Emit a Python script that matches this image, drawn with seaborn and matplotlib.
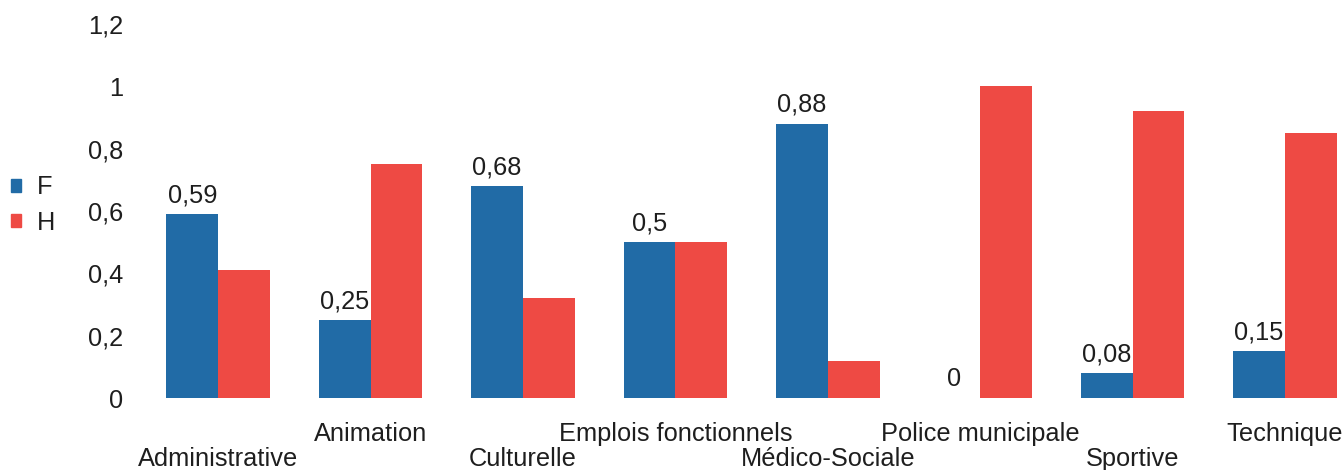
import matplotlib
matplotlib.use("Agg")
import matplotlib.pyplot as plt
import matplotlib.ticker as mticker
import seaborn as sns
import pandas as pd

categories = ["Administrative", "Animation", "Culturelle", "Emplois fonctionnels",
              "Médico-Sociale", "Police municipale", "Sportive", "Technique"]
f_values = [0.59, 0.25, 0.68, 0.50, 0.88, 0.00, 0.08, 0.15]
h_values = [0.41, 0.75, 0.32, 0.50, 0.12, 1.00, 0.92, 0.85]
series = ["F", "H"]
y_ticks = [0, 0.2, 0.4, 0.6, 0.8, 1.0, 1.2]

colors = {"F": "#216ba6", "H": "#ee4a44"}

df = pd.DataFrame({
    "categorie": categories * 2,
    "valeur": f_values + h_values,
    "sexe": ["F"] * len(categories) + ["H"] * len(categories),
})

sns.set_theme(style="white")
plt.rcParams["font.family"] = ["Liberation Sans", "DejaVu Sans"]
FS = 18.3
TXT = "#1e1e1e"

fig = plt.figure(figsize=(13.44, 4.70), dpi=100)
W, H = 1344, 470
ax_left, ax_right = 142, 1344
ax_bottom, ax_top = 398, 24
ax = fig.add_axes([ax_left / W, 1 - ax_bottom / H,
                   (ax_right - ax_left) / W, (ax_bottom - ax_top) / H])

sns.barplot(data=df, x="categorie", y="valeur", hue="sexe", order=categories,
            hue_order=series, palette=colors, width=0.68, gap=0,
            saturation=1, linewidth=0, ax=ax, legend=False)

step = 152.4
ax.set_xlim(-0.5, -0.5 + (ax_right - ax_left) / step)
ax.set_ylim(0, 1.2)
ax.set_yticks(y_ticks)
ax.yaxis.set_major_formatter(mticker.FuncFormatter(
    lambda v, _: f"{v:g}".replace(".", ",")))
ax.tick_params(axis="y", length=0, pad=13.5, labelsize=FS, labelcolor=TXT)
ax.set_xticks(range(len(categories)))
ax.set_xticklabels([])
ax.tick_params(axis="x", length=0)
ax.set_xlabel("")
ax.set_ylabel("")
for s in ax.spines.values():
    s.set_visible(False)

# staggered category names under the groups
axh = ax_bottom - ax_top
for i, name in enumerate(categories):
    off = 43 if i % 2 else 68
    ax.text(i, -off / axh, name, transform=ax.get_xaxis_transform(),
            ha="center", va="baseline", fontsize=FS, color=TXT)

# value labels on the F bars
f_bars = ax.containers[0]
ax.bar_label(f_bars, labels=[f"{v:g}".replace(".", ",") for v in f_values],
             padding=5, fontsize=FS, color=TXT)

handles = [plt.Rectangle((0, 0), 1, 1, color=colors[s]) for s in series]
fig.legend(handles, series, loc="center left", bbox_to_anchor=(0.008, 0.564),
           frameon=False, fontsize=FS, handlelength=0.42, handleheight=0.42,
           handletextpad=0.6, labelspacing=0.45, borderpad=0, borderaxespad=0,
           labelcolor=TXT)

fig.savefig("out.png", dpi=100)
